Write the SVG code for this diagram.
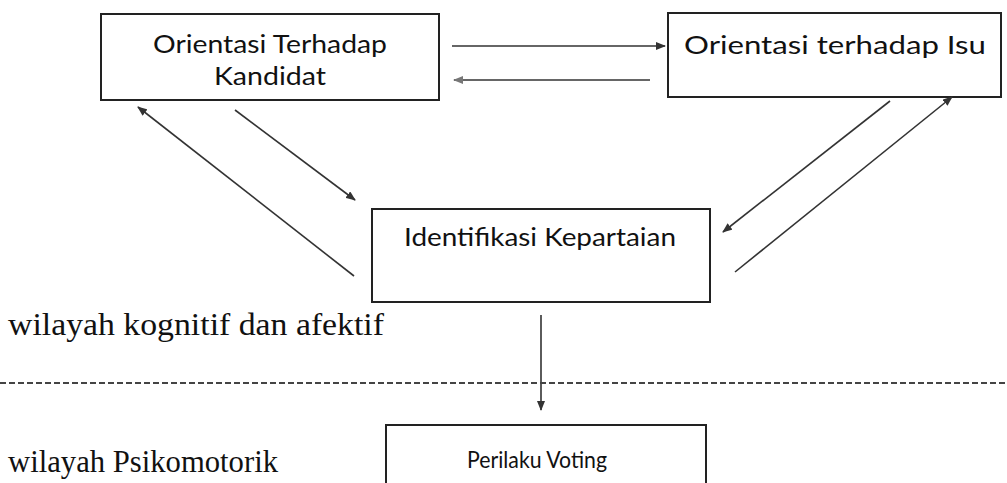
<svg xmlns="http://www.w3.org/2000/svg" width="1007" height="483" viewBox="0 0 1007 483">
<style>
.box{fill:#fff;stroke:#222;stroke-width:2}
.lbl{font-family:Lato,"Open Sans",sans-serif;font-size:25px;fill:#111;text-anchor:middle}
.ser{font-family:"Liberation Serif",serif;font-size:32px;fill:#111}
.ln{stroke:#333;stroke-width:1.6;fill:none}
</style>
<defs>
<marker id="ah" markerWidth="10" markerHeight="8" refX="9" refY="4" orient="auto" markerUnits="userSpaceOnUse">
<path d="M0,0 L10,4 L0,8 Z" fill="#333"/>
</marker>
<marker id="ahg" markerWidth="10" markerHeight="8" refX="9" refY="4" orient="auto" markerUnits="userSpaceOnUse">
<path d="M0,0 L10,4 L0,8 Z" fill="#777"/>
</marker>
</defs>
<rect width="1007" height="483" fill="#fff"/>
<g id="node-kandidat">
<rect class="box" x="101" y="14" width="338" height="86"/>
<text class="lbl" x="270" y="53" textLength="234" lengthAdjust="spacingAndGlyphs">Orientasi Terhadap</text>
<text class="lbl" x="270" y="85" textLength="112" lengthAdjust="spacingAndGlyphs">Kandidat</text>
</g>
<g id="node-isu">
<rect class="box" x="668" y="13" width="333" height="84"/>
<text class="lbl" x="835" y="54" textLength="302" lengthAdjust="spacingAndGlyphs">Orientasi terhadap Isu</text>
</g>
<g id="node-identifikasi">
<rect class="box" x="372" y="209" width="338" height="93"/>
<text class="lbl" x="540" y="246" fill="#333" textLength="272" lengthAdjust="spacingAndGlyphs">Identifikasi Kepartaian</text>
</g>
<g id="node-perilaku">
<rect class="box" x="386" y="425" width="320" height="70"/>
<text class="lbl" x="537" y="468" style="font-size:23px" textLength="140" lengthAdjust="spacingAndGlyphs">Perilaku Voting</text>
</g>
<g id="labels">
<text class="ser" x="8" y="335" textLength="376" lengthAdjust="spacingAndGlyphs">wilayah kognitif dan afektif</text>
<text class="ser" x="8" y="472" textLength="270" lengthAdjust="spacingAndGlyphs">wilayah Psikomotorik</text>
</g>
<g id="connectors">
<line class="ln" x1="452" y1="46" x2="665" y2="46" stroke="#111" stroke-width="2.4" marker-end="url(#ah)"/>
<line class="ln" x1="650" y1="80" x2="454" y2="80" stroke="#777" marker-end="url(#ahg)"/>
<line class="ln" x1="235" y1="110" x2="355" y2="200" marker-end="url(#ah)"/>
<line class="ln" x1="354" y1="276" x2="138" y2="107" marker-end="url(#ah)"/>
<line class="ln" x1="890" y1="101" x2="723" y2="232" marker-end="url(#ah)"/>
<line class="ln" x1="735" y1="272" x2="952" y2="97" marker-end="url(#ah)"/>
<line class="ln" x1="541" y1="315" x2="541" y2="410" marker-end="url(#ah)"/>
<line x1="0" y1="383" x2="1007" y2="383" stroke="#444" stroke-width="2" stroke-dasharray="6,3"/>
</g>
</svg>
